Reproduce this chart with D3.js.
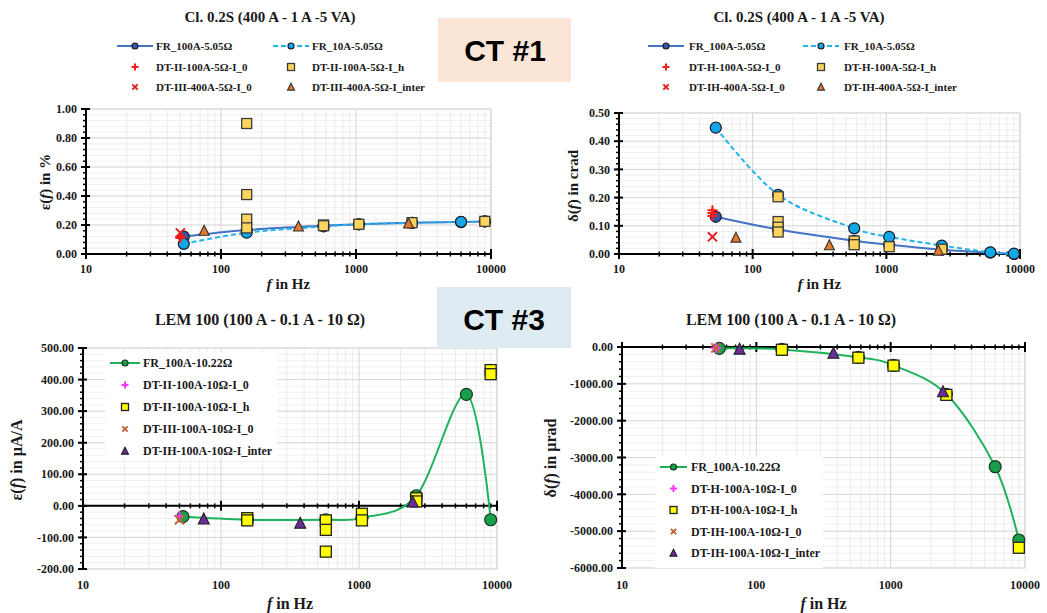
<!DOCTYPE html>
<html>
<head>
<meta charset="utf-8">
<script src="https://cdn.jsdelivr.net/npm/d3@7"></script>
<style>
  body { margin: 0; background: #fff; }
  svg text { font-family: "Liberation Serif", "Times New Roman", serif; font-weight: bold; fill: #1a1a1a; }
  .ct { font-family: "Liberation Sans", Arial, sans-serif; font-size: 30px; fill: #000; }
</style>
</head>
<body>
<svg id="vis" width="1047" height="613"></svg>
<script>
/* ---- data ---- */
var frFreq = [53, 155, 575, 1050, 2600, 6000, 9000];

// CT #1 ratio error, %
var ct1EpsFr100 = [0.12, 0.165, 0.195, 0.205, 0.215, 0.22, 0.225];
var ct1EpsFr10 = [0.07, 0.147, 0.19, 0.205, 0.215, 0.222, 0.225];
var ct1EpsII0 = [[50, 0.12], [50, 0.11]];
var ct1EpsIIh = [[155, 0.90], [155, 0.41], [155, 0.24], [155, 0.18], [575, 0.20], [575, 0.195],
                 [1050, 0.205], [2600, 0.216], [9000, 0.225]];
var ct1EpsIII0 = [[50, 0.145]];
var ct1EpsInter = [[75, 0.16], [375, 0.19], [2450, 0.21]];

// CT #1 phase error, crad
var ct1DelFr100 = [0.132, 0.087, 0.047, 0.033, 0.015, 0.005, 0.0];
var ct1DelFr10 = [0.448, 0.21, 0.091, 0.061, 0.03, 0.006, 0.001];
var ct1DelII0 = [[50, 0.155], [50, 0.145], [50, 0.135]];
var ct1DelIIh = [[155, 0.203], [155, 0.115], [155, 0.095], [155, 0.078], [575, 0.046], [575, 0.033],
                 [1050, 0.026], [2600, 0.017]];
var ct1DelIII0 = [[50, 0.061]];
var ct1DelInter = [[75, 0.058], [375, 0.031], [2450, 0.012]];

// CT #3 ratio error, uA/A
var ct3EpsFr = [-34, -44, -44, -38, 32, 353, -44];
var ct3EpsII0 = [[50, -32]];
var ct3EpsIIh = [[155, -39], [155, -46], [575, -46], [575, -76], [575, -145], [1050, -25], [1050, -46],
                 [2600, 24], [2600, 14], [9000, 430], [9000, 417]];
var ct3EpsIII0 = [[50, -44]];
var ct3EpsInter = [[75, -42], [375, -55], [2450, 12]];

// CT #3 phase error, urad
var ct3DelFr = [-36, -65, -280, -500, -1285, -3250, -5240];
var ct3DelII0 = [[50, -30]];
var ct3DelIIh = [[155, -75], [575, -290], [1050, -505], [2600, -1300], [9000, -5450]];
var ct3DelIII0 = [[50, -25]];
var ct3DelInter = [[75, -60], [375, -170], [2450, -1215]];

var xMajorTicks = [10, 100, 1000, 10000];

/* ---- styles ---- */
var sty = {
  fr100: { line: '#4472c4', fill: '#3358a8', stroke: '#1a1a2a' },
  fr10: { line: '#1fb4ec', fill: '#12a8e6', stroke: '#1a1a2a', dash: '5,3' },
  red0: { stroke: '#ff1a1a' },
  redX: { stroke: '#e02020' },
  goldSq: { fill: '#ffd45e', stroke: '#3a3a3a' },
  orangeTri: { fill: '#e4782c', stroke: '#333' },
  green: { line: '#1cb35a', fill: '#1a9e4a', stroke: '#143a1e' },
  magenta: { stroke: '#ff33ff' },
  yellowSq: { fill: '#ffff00', stroke: '#222' },
  brownX: { stroke: '#c0663a' },
  purpleTri: { fill: '#6a2c9a', stroke: '#222' }
};

var svg = d3.select('#vis');

function marker(g, kind, cx, cy, s, st) {
  if (kind === 'circle') {
    g.append('circle').attr('cx', cx).attr('cy', cy).attr('r', s / 2)
      .attr('fill', st.fill).attr('stroke', st.stroke).attr('stroke-width', 1.2);
  } else if (kind === 'square') {
    g.append('rect').attr('x', cx - s / 2).attr('y', cy - s / 2).attr('width', s).attr('height', s)
      .attr('fill', st.fill).attr('stroke', st.stroke).attr('stroke-width', 1.3);
  } else if (kind === 'triangle') {
    g.append('path')
      .attr('d', 'M' + cx + ',' + (cy - s * 0.55) + 'L' + (cx + s / 2) + ',' + (cy + s * 0.45) +
                 'L' + (cx - s / 2) + ',' + (cy + s * 0.45) + 'Z')
      .attr('fill', st.fill).attr('stroke', st.stroke).attr('stroke-width', 1.1);
  } else if (kind === 'plus') {
    g.append('path')
      .attr('d', 'M' + (cx - s / 2) + ',' + cy + 'H' + (cx + s / 2) + 'M' + cx + ',' + (cy - s / 2) + 'V' + (cy + s / 2))
      .attr('stroke', st.stroke).attr('stroke-width', 2).attr('fill', 'none');
  } else if (kind === 'x') {
    var h = s * 0.38;
    g.append('path')
      .attr('d', 'M' + (cx - h) + ',' + (cy - h) + 'L' + (cx + h) + ',' + (cy + h) +
                 'M' + (cx + h) + ',' + (cy - h) + 'L' + (cx - h) + ',' + (cy + h))
      .attr('stroke', st.stroke).attr('stroke-width', 2).attr('fill', 'none');
  }
}

function drawPanel(p) {
  var g = svg.append('g');
  var x = d3.scaleLog().domain([10, 10000]).range(p.xRange);
  var y = d3.scaleLinear().domain(p.yDomain).range(p.yRange);
  var x0 = p.xRange[0], x1 = p.xRange[1], yb = p.yRange[0], yt = p.yRange[1];

  var xMinor = [];
  [10, 100, 1000].forEach(function(d) {
    for (var k = 2; k <= 9; k++) xMinor.push(d * k);
  });
  var yMinor = d3.range(p.yDomain[0], p.yDomain[1] + p.minor / 2, p.minor);
  var yMajor = d3.range(p.yDomain[0], p.yDomain[1] + p.major / 2, p.major);

  /* grid */
  g.append('rect').attr('x', x0).attr('y', yt).attr('width', x1 - x0).attr('height', yb - yt)
    .attr('fill', '#fff').attr('stroke', '#d9d9d9');
  g.selectAll('.hmin').data(yMinor).enter().append('line')
    .attr('x1', x0).attr('x2', x1).attr('y1', y).attr('y2', y)
    .attr('stroke', '#efefef');
  g.selectAll('.vmin').data(xMinor).enter().append('line')
    .attr('y1', yt).attr('y2', yb).attr('x1', x).attr('x2', x)
    .attr('stroke', '#ececec');
  g.selectAll('.hmaj').data(yMajor).enter().append('line')
    .attr('x1', x0).attr('x2', x1).attr('y1', y).attr('y2', y)
    .attr('stroke', '#d9d9d9');
  g.selectAll('.vmaj').data(xMajorTicks).enter().append('line')
    .attr('y1', yt).attr('y2', yb).attr('x1', x).attr('x2', x)
    .attr('stroke', '#d4d4d4');

  /* axes */
  var ax = y(p.xCross);
  g.append('line').attr('x1', x0).attr('x2', x0).attr('y1', yt).attr('y2', yb)
    .attr('stroke', '#000').attr('stroke-width', 2);
  g.append('line').attr('x1', x0).attr('x2', x1).attr('y1', ax).attr('y2', ax)
    .attr('stroke', '#000').attr('stroke-width', 2);
  g.selectAll('.ytmin').data(yMinor).enter().append('line')
    .attr('x1', x0 - 3).attr('x2', x0).attr('y1', y).attr('y2', y)
    .attr('stroke', '#000').attr('stroke-width', 1.5);
  g.selectAll('.ytmaj').data(yMajor).enter().append('line')
    .attr('x1', x0 - 5).attr('x2', x0 + 4).attr('y1', y).attr('y2', y)
    .attr('stroke', '#000').attr('stroke-width', 2);
  g.selectAll('.xtmin').data(xMinor).enter().append('line')
    .attr('x1', x).attr('x2', x).attr('y1', ax - 2.5).attr('y2', ax + 2.5)
    .attr('stroke', '#000').attr('stroke-width', 1.5);
  g.selectAll('.xtmaj').data(xMajorTicks).enter().append('line')
    .attr('x1', x).attr('x2', x).attr('y1', ax - 5).attr('y2', ax + 5)
    .attr('stroke', '#000').attr('stroke-width', 2);

  g.selectAll('.ylab').data(yMajor).enter().append('text')
    .attr('x', x0 - 9).attr('y', y).attr('dy', '0.35em')
    .attr('text-anchor', 'end').style('font-size', p.tickFont + 'px')
    .text(function(d) { return d.toFixed(2); });
  g.selectAll('.xlab').data(xMajorTicks).enter().append('text')
    .attr('x', x).attr('y', p.xLabelY).attr('dy', '0.35em')
    .attr('text-anchor', 'middle').style('font-size', p.tickFont + 'px')
    .text(function(d) { return d; });

  /* titles */
  g.append('text').attr('x', p.titleX).attr('y', p.titleY).attr('text-anchor', 'middle')
    .style('font-size', p.titleFont + 'px').text(p.title);
  var xt = g.append('text').attr('x', (x0 + x1) / 2).attr('y', p.xTitleY).attr('text-anchor', 'middle')
    .style('font-size', p.axisFont + 'px');
  xt.append('tspan').style('font-style', 'italic').text('f');
  xt.append('tspan').text(' in Hz');
  var yti = g.append('text')
    .attr('transform', 'translate(' + p.yTitle[0] + ',' + p.yTitle[1] + ') rotate(-90)')
    .attr('text-anchor', 'middle').style('font-size', p.axisFont + 'px');
  yti.append('tspan').text(p.yTitleSym + '(');
  yti.append('tspan').style('font-style', 'italic').text('f');
  yti.append('tspan').text(') in ' + p.yUnit);

  /* series */
  var line = d3.line()
    .x(function(d) { return x(d[0]); })
    .y(function(d) { return y(d[1]); })
    .curve(d3.curveCatmullRom.alpha(0));

  p.series.forEach(function(s) {
    var pts = s.pts || frFreq.map(function(f, i) { return [f, s.vals[i]]; });
    if (s.line) {
      g.append('path').datum(pts).attr('d', line).attr('fill', 'none')
        .attr('stroke', s.st.line).attr('stroke-width', 2)
        .attr('stroke-dasharray', s.st.dash || null);
    }
    pts.forEach(function(d) {
      marker(g, s.kind, x(d[0]), y(d[1]), s.size, s.st);
    });
  });

  /* legend */
  var L = p.legend;
  if (L.box) {
    g.append('rect').attr('x', L.box[0]).attr('y', L.box[1]).attr('width', L.box[2]).attr('height', L.box[3])
      .attr('fill', '#fff');
  }
  p.series.forEach(function(s, i) {
    var pos = L.pos(i);
    var lx = pos[0], ly = pos[1];
    var mid = lx + L.lineW / 2;
    if (s.line) {
      g.append('line').attr('x1', lx).attr('x2', lx + L.lineW).attr('y1', ly).attr('y2', ly)
        .attr('stroke', s.st.line).attr('stroke-width', 2)
        .attr('stroke-dasharray', s.st.dash || null);
    }
    marker(g, s.kind, mid, ly, s.kind === 'circle' ? 6 : 7, s.st);
    g.append('text').attr('x', lx + L.textDx).attr('y', ly).attr('dy', '0.35em')
      .style('font-size', L.font + 'px').text(s.name);
  });
}

function topLegend(cols, rows, lineW, textDx) {
  return {
    lineW: lineW, textDx: textDx, font: 11,
    pos: function(i) { return [cols[i % 2], rows[Math.floor(i / 2)]]; }
  };
}

drawPanel({
  xRange: [86, 491], yRange: [254, 109], yDomain: [0, 1], major: 0.2, minor: 0.04, xCross: 0,
  tickFont: 12, xLabelY: 269, title: 'Cl. 0.2S (400 A  - 1 A -5 VA)', titleX: 270, titleY: 22, titleFont: 15,
  axisFont: 15, xTitleY: 289, yTitle: [50, 182], yTitleSym: 'ε', yUnit: '%',
  legend: topLegend([117, 273], [46, 67, 87], 36, 39),
  series: [
    { name: 'FR_100A-5.05Ω', line: true, vals: ct1EpsFr100, kind: 'circle', size: 11, st: sty.fr100 },
    { name: 'FR_10A-5.05Ω', line: true, vals: ct1EpsFr10, kind: 'circle', size: 11, st: sty.fr10 },
    { name: 'DT-II-100A-5Ω-I_0', pts: ct1EpsII0, kind: 'plus', size: 10, st: sty.red0 },
    { name: 'DT-II-100A-5Ω-I_h', pts: ct1EpsIIh, kind: 'square', size: 10, st: sty.goldSq },
    { name: 'DT-III-400A-5Ω-I_0', pts: ct1EpsIII0, kind: 'x', size: 12, st: sty.redX },
    { name: 'DT-III-400A-5Ω-I_inter', pts: ct1EpsInter, kind: 'triangle', size: 10, st: sty.orangeTri }
  ]
});

drawPanel({
  xRange: [619, 1020], yRange: [254, 113], yDomain: [0, 0.5], major: 0.1, minor: 0.02, xCross: 0,
  tickFont: 12, xLabelY: 269, title: 'Cl. 0.2S (400 A  - 1 A -5 VA)', titleX: 799, titleY: 22, titleFont: 15,
  axisFont: 15, xTitleY: 289, yTitle: [578, 186], yTitleSym: 'δ', yUnit: 'crad',
  legend: topLegend([648, 803], [46, 67, 87], 36, 41),
  series: [
    { name: 'FR_100A-5.05Ω', line: true, vals: ct1DelFr100, kind: 'circle', size: 11, st: sty.fr100 },
    { name: 'FR_10A-5.05Ω', line: true, vals: ct1DelFr10, kind: 'circle', size: 11, st: sty.fr10 },
    { name: 'DT-H-100A-5Ω-I_0', pts: ct1DelII0, kind: 'plus', size: 10, st: sty.red0 },
    { name: 'DT-H-100A-5Ω-I_h', pts: ct1DelIIh, kind: 'square', size: 10, st: sty.goldSq },
    { name: 'DT-IH-400A-5Ω-I_0', pts: ct1DelIII0, kind: 'x', size: 12, st: sty.redX },
    { name: 'DT-IH-400A-5Ω-I_inter', pts: ct1DelInter, kind: 'triangle', size: 10, st: sty.orangeTri }
  ]
});

drawPanel({
  xRange: [83, 497], yRange: [569, 348], yDomain: [-200, 500], major: 100, minor: 20, xCross: 0,
  tickFont: 12, xLabelY: 585, title: 'LEM 100 (100 A - 0.1 A - 10 Ω)', titleX: 260, titleY: 325, titleFont: 16,
  axisFont: 16, xTitleY: 609, yTitle: [22, 460], yTitleSym: 'ε', yUnit: 'µA/A',
  legend: {
    box: [105, 352, 172, 106], lineW: 30, textDx: 33, font: 12,
    pos: function(i) { return [110, 363 + i * 22]; }
  },
  series: [
    { name: 'FR_100A-10.22Ω', line: true, vals: ct3EpsFr, kind: 'circle', size: 12, st: sty.green },
    { name: 'DT-II-100A-10Ω-I_0', pts: ct3EpsII0, kind: 'plus', size: 10, st: sty.magenta },
    { name: 'DT-II-100A-10Ω-I_h', pts: ct3EpsIIh, kind: 'square', size: 11, st: sty.yellowSq },
    { name: 'DT-III-100A-10Ω-I_0', pts: ct3EpsIII0, kind: 'x', size: 12, st: sty.brownX },
    { name: 'DT-IH-100A-10Ω-I_inter', pts: ct3EpsInter, kind: 'triangle', size: 11, st: sty.purpleTri }
  ]
});

drawPanel({
  xRange: [622, 1025], yRange: [568, 347], yDomain: [-6000, 0], major: 1000, minor: 200, xCross: 0,
  tickFont: 12, xLabelY: 585, title: 'LEM 100 (100 A - 0.1 A - 10 Ω)', titleX: 791, titleY: 325, titleFont: 16,
  axisFont: 16, xTitleY: 609, yTitle: [556, 458], yTitleSym: 'δ', yUnit: 'µrad',
  legend: {
    box: [655, 456, 168, 112], lineW: 27, textDx: 31, font: 12,
    pos: function(i) { return [660, 467 + i * 21.5]; }
  },
  series: [
    { name: 'FR_100A-10.22Ω', line: true, vals: ct3DelFr, kind: 'circle', size: 12, st: sty.green },
    { name: 'DT-H-100A-10Ω-I_0', pts: ct3DelII0, kind: 'plus', size: 10, st: sty.magenta },
    { name: 'DT-H-100A-10Ω-I_h', pts: ct3DelIIh, kind: 'square', size: 11, st: sty.yellowSq },
    { name: 'DT-IH-100A-10Ω-I_0', pts: ct3DelIII0, kind: 'x', size: 12, st: sty.brownX },
    { name: 'DT-IH-100A-10Ω-I_inter', pts: ct3DelInter, kind: 'triangle', size: 11, st: sty.purpleTri }
  ]
});

/* CT badges */
svg.append('rect').attr('x', 438).attr('y', 18).attr('width', 133).attr('height', 64).attr('fill', '#fbe5d6');
svg.append('text').attr('class', 'ct').attr('x', 505).attr('y', 50).attr('dy', '0.35em')
  .attr('text-anchor', 'middle').text('CT #1');
svg.append('rect').attr('x', 437).attr('y', 287).attr('width', 134).attr('height', 61).attr('fill', '#deebf2');
svg.append('text').attr('class', 'ct').attr('x', 504).attr('y', 319).attr('dy', '0.35em')
  .attr('text-anchor', 'middle').text('CT #3');
</script>
</body>
</html>
